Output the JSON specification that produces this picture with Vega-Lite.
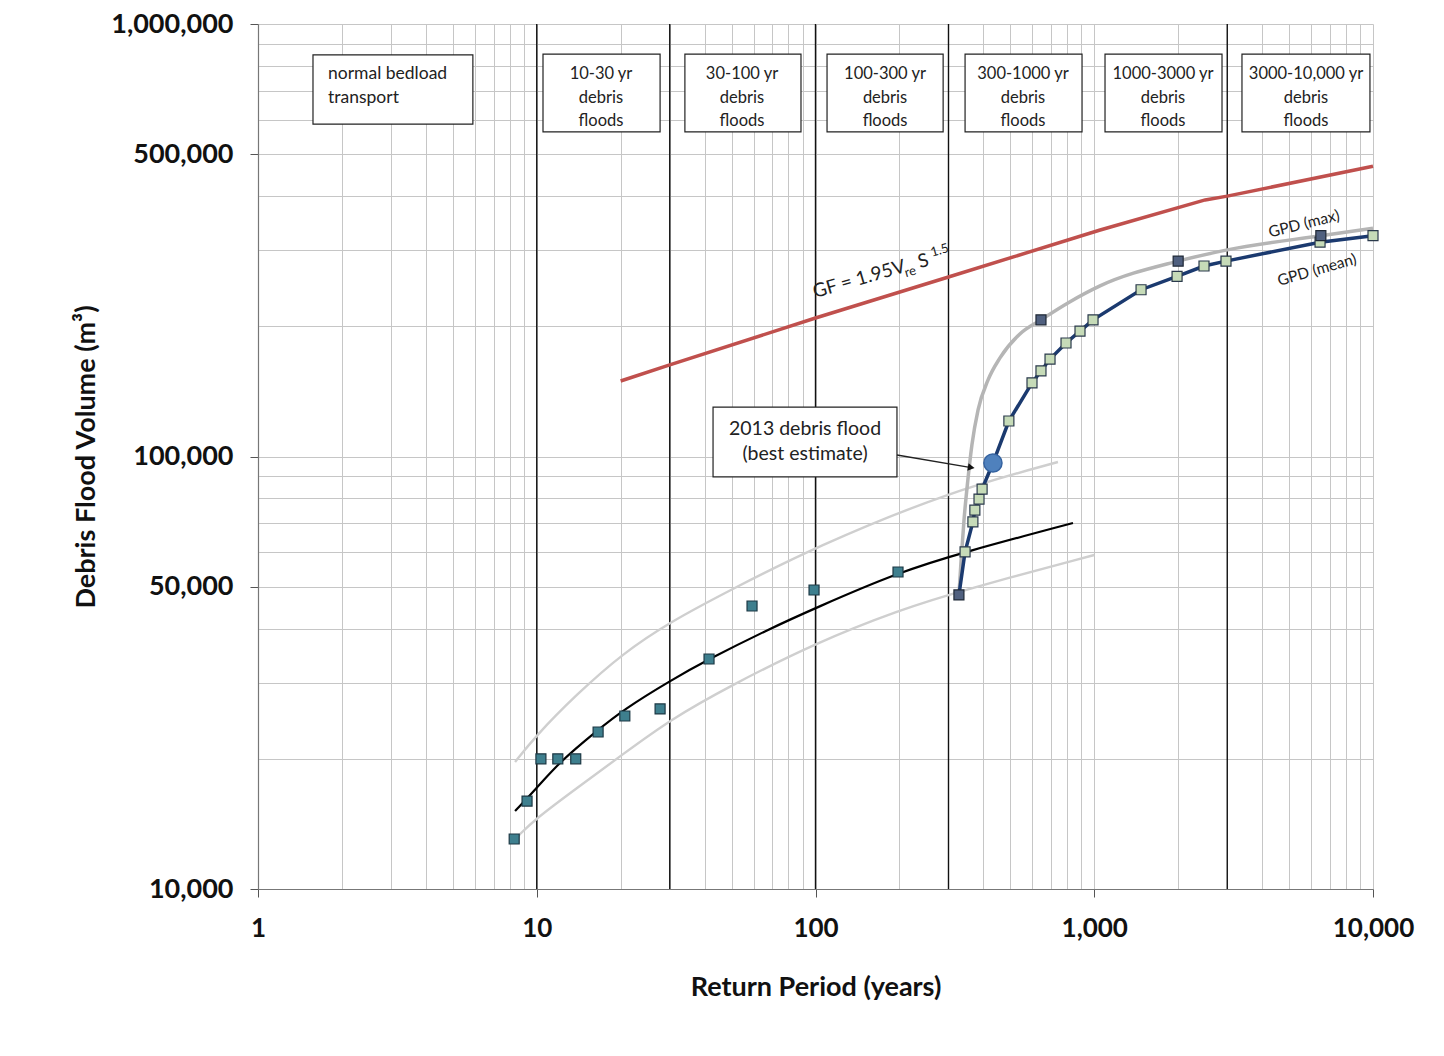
{
  "$schema": "https://vega.github.io/schema/vega-lite/v6.json",
  "autosize": {"type": "none"},
  "width": 1115,
  "height": 865,
  "padding": {"left": 258, "top": 24, "right": 71, "bottom": 167},
  "background": "white",
  "config": {
    "view": {"stroke": null},
    "font": "Lato",
    "axis": {"labelFont": "Lato", "titleFont": "Lato"}
  },
  "datasets": {
    "obs": [
      {"x": 8.3, "y": 13050}, {"x": 9.23, "y": 15970}, {"x": 10.35, "y": 20000},
      {"x": 11.9, "y": 20000}, {"x": 13.8, "y": 20000}, {"x": 16.6, "y": 23070},
      {"x": 20.7, "y": 25120}, {"x": 27.7, "y": 26080}, {"x": 41.5, "y": 34020},
      {"x": 59.2, "y": 45120}, {"x": 98.8, "y": 49130}, {"x": 197.7, "y": 54070}
    ],
    "fit": [
      {"x": 8.36, "y": 15140}, {"x": 9.86, "y": 16940}, {"x": 12.1, "y": 19700},
      {"x": 16.4, "y": 23190}, {"x": 20.4, "y": 25940}, {"x": 30, "y": 30270},
      {"x": 41.5, "y": 34020}, {"x": 67, "y": 39700}, {"x": 100, "y": 44650},
      {"x": 200, "y": 54100}, {"x": 344, "y": 60200}, {"x": 839, "y": 70200}
    ],
    "upper": [
      {"x": 8.36, "y": 19660}, {"x": 9.86, "y": 22500}, {"x": 13.9, "y": 28200},
      {"x": 20.4, "y": 35100}, {"x": 30, "y": 41400}, {"x": 49.4, "y": 49100},
      {"x": 100, "y": 61800}, {"x": 300, "y": 82800}, {"x": 741, "y": 97100}
    ],
    "lower": [
      {"x": 8.5, "y": 13190}, {"x": 9.86, "y": 14500}, {"x": 13.9, "y": 17100},
      {"x": 20.4, "y": 20500}, {"x": 30, "y": 24600}, {"x": 49.4, "y": 29500},
      {"x": 100, "y": 37060}, {"x": 200, "y": 44200}, {"x": 338, "y": 49100},
      {"x": 1000, "y": 59200}
    ],
    "gpdmax": [
      {"x": 327, "y": 47850}, {"x": 333, "y": 57650}, {"x": 341, "y": 71300},
      {"x": 352, "y": 88200}, {"x": 364, "y": 106300}, {"x": 383, "y": 128100},
      {"x": 416, "y": 150300}, {"x": 459, "y": 169000}, {"x": 541, "y": 192000},
      {"x": 644, "y": 207000}, {"x": 819, "y": 228000}, {"x": 1049, "y": 248000},
      {"x": 2000, "y": 283000}, {"x": 2970, "y": 300000}, {"x": 6500, "y": 324000},
      {"x": 10000, "y": 337000}
    ],
    "gpdmaxpts": [
      {"x": 327, "y": 47850}, {"x": 644, "y": 207000}, {"x": 2000, "y": 283000},
      {"x": 6500, "y": 324000}
    ],
    "gpdmean": [
      {"x": 327, "y": 47850}, {"x": 344, "y": 60200}, {"x": 367, "y": 70600},
      {"x": 373, "y": 75200}, {"x": 386, "y": 79700}, {"x": 396, "y": 84100},
      {"x": 433, "y": 96600}, {"x": 494, "y": 120800}, {"x": 598, "y": 148000},
      {"x": 644, "y": 157700}, {"x": 694, "y": 168000}, {"x": 792, "y": 183000},
      {"x": 889, "y": 195000}, {"x": 990, "y": 207000}, {"x": 1472, "y": 243000},
      {"x": 1982, "y": 261000}, {"x": 2476, "y": 275700}, {"x": 2969, "y": 283000},
      {"x": 6457, "y": 313000}, {"x": 10000, "y": 324000}
    ],
    "gpdmeanpts": [
      {"x": 344, "y": 60200}, {"x": 367, "y": 70600},
      {"x": 373, "y": 75200}, {"x": 386, "y": 79700}, {"x": 396, "y": 84100},
      {"x": 494, "y": 120800}, {"x": 598, "y": 148000},
      {"x": 644, "y": 157700}, {"x": 694, "y": 168000}, {"x": 792, "y": 183000},
      {"x": 889, "y": 195000}, {"x": 990, "y": 207000}, {"x": 1472, "y": 243000},
      {"x": 1982, "y": 261000}, {"x": 2476, "y": 275700}, {"x": 2969, "y": 283000},
      {"x": 6457, "y": 313000}, {"x": 10000, "y": 324000}
    ],
    "event2013": [{"x": 433, "y": 96600}],
    "gf": [
      {"x": 20, "y": 149500}, {"x": 30, "y": 162800}, {"x": 100, "y": 209000},
      {"x": 300, "y": 260000}, {"x": 1050, "y": 334000}, {"x": 2500, "y": 392000},
      {"x": 3000, "y": 400000}, {"x": 10000, "y": 469000}
    ],
    "bounds": [{"x": 10}, {"x": 30}, {"x": 100}, {"x": 300}, {"x": 3000}],
    "boxes": [
      {"x": 1.575, "x2": 5.9, "y": 848000, "y2": 587000},
      {"x": 10.53, "x2": 27.7, "y": 852000, "y2": 563000},
      {"x": 34.0, "x2": 88.7, "y": 852000, "y2": 563000},
      {"x": 110, "x2": 287, "y": 852000, "y2": 563000},
      {"x": 344, "x2": 904, "y": 852000, "y2": 563000},
      {"x": 1093, "x2": 2873, "y": 852000, "y2": 563000},
      {"x": 3388, "x2": 9752, "y": 852000, "y2": 563000},
      {"x": 42.9, "x2": 196, "y": 130100, "y2": 89700}
    ],
    "boxtext": [
      {"x": 17.0, "y": 766000, "label": "10-30 yr\ndebris\nfloods"},
      {"x": 54.5, "y": 766000, "label": "30-100  yr\ndebris\nfloods"},
      {"x": 177.6, "y": 766000, "label": "100-300  yr\ndebris\nfloods"},
      {"x": 555, "y": 766000, "label": "300-1000  yr\ndebris\nfloods"},
      {"x": 1765, "y": 766000, "label": "1000-3000  yr\ndebris\nfloods"},
      {"x": 5750, "y": 766000, "label": "3000-10,000  yr\ndebris\nfloods"}
    ],
    "bedload": [{"x": 1.783, "y": 766000, "label": "normal bedload\ntransport"}],
    "anno": [{"x": 91.7, "y": 115800, "label": "2013 debris flood\n(best estimate)"}],
    "arrow": [{"x": 196, "y": 100800}, {"x": 362, "y": 94300}],
    "arrowhead": [{"x": 362, "y": 94300}],
    "gfmain": [{"x": 99.5, "y": 232500, "label": "GF = 1.95V"}],
    "gfsub": [{"x": 211, "y": 259800, "label": "re"}],
    "gfS": [{"x": 237, "y": 272500, "label": "S"}],
    "gfsup": [{"x": 261.8, "y": 289700, "label": "1.5"}],
    "gpdlabmax": [{"x": 5655, "y": 345000, "label": "GPD (max)"}],
    "gpdlabmean": [{"x": 6296, "y": 270000, "label": "GPD (mean)"}]
  },
  "encoding": {
    "x": {
      "field": "x", "type": "quantitative",
      "scale": {"type": "log", "domain": [1, 10000], "nice": false},
      "axis": {
        "title": "Return Period (years)",
        "titleFontSize": 27, "titleFontWeight": "bold", "titleColor": "#111",
        "titlePadding": 33,
        "values": [1,2,3,4,5,6,7,8,9,10,20,30,40,50,60,70,80,90,100,200,300,400,500,600,700,800,900,1000,2000,3000,4000,5000,6000,7000,8000,9000,10000],
        "labelExpr": "indexof([1,10,100,1000,10000], datum.value) >= 0 ? format(datum.value, ',') : ''",
        "labelFontSize": 26, "labelFontWeight": "bold", "labelColor": "#111",
        "labelPadding": 18, "labelFlush": false, "labelOverlap": false,
        "grid": true, "gridColor": "#c6c6c6", "gridWidth": 1,
        "domainColor": "#777", "domainWidth": 1.2,
        "tickColor": "#555",
        "tickSize": {"condition": {"test": "indexof([1,10,100,1000,10000], datum.value) >= 0", "value": 8}, "value": 0}
      }
    },
    "y": {
      "field": "y", "type": "quantitative",
      "scale": {"type": "log", "domain": [10000, 1000000], "nice": false},
      "axis": {
        "title": "Debris Flood Volume (m³)",
        "titleFontSize": 27, "titleFontWeight": "bold", "titleColor": "#111",
        "titlePadding": 10,
        "values": [10000,20000,30000,40000,50000,60000,70000,80000,90000,100000,200000,300000,400000,500000,600000,700000,800000,900000,1000000],
        "labelExpr": "indexof([10000,50000,100000,500000,1000000], datum.value) >= 0 ? format(datum.value, ',') : ''",
        "labelFontSize": 27, "labelFontWeight": "bold", "labelColor": "#111",
        "labelPadding": 17, "labelFlush": false, "labelOverlap": false,
        "grid": true, "gridColor": "#c6c6c6", "gridWidth": 1,
        "domainColor": "#777", "domainWidth": 1.2,
        "tickColor": "#555",
        "tickSize": {"condition": {"test": "indexof([10000,50000,100000,500000,1000000], datum.value) >= 0", "value": 8}, "value": 0}
      }
    }
  },
  "layer": [
    {"data": {"name": "bounds"}, "mark": {"type": "rule", "color": "#111", "strokeWidth": 1.4}, "encoding": {"y": {"value": 0}, "y2": {"value": 865}}},
    {"data": {"name": "upper"}, "mark": {"type": "line", "color": "#cfcfcf", "strokeWidth": 2.4, "interpolate": "basis"}},
    {"data": {"name": "lower"}, "mark": {"type": "line", "color": "#cfcfcf", "strokeWidth": 2.4, "interpolate": "basis"}},
    {"data": {"name": "fit"}, "mark": {"type": "line", "color": "#000000", "strokeWidth": 2.2, "interpolate": "basis"}},
    {"data": {"name": "gf"}, "mark": {"type": "line", "color": "#c0504d", "strokeWidth": 3.5}},
    {"data": {"name": "gpdmax"}, "mark": {"type": "line", "color": "#b5b5b5", "strokeWidth": 3.5, "interpolate": "monotone"}},
    {"data": {"name": "gpdmean"}, "mark": {"type": "line", "color": "#1b3a6f", "strokeWidth": 3.5}},
    {"data": {"name": "obs"}, "mark": {"type": "point", "shape": "square", "filled": true, "size": 100, "color": "#3e7f8e", "stroke": "#1c3844", "strokeWidth": 1.2, "opacity": 1}},
    {"data": {"name": "gpdmeanpts"}, "mark": {"type": "point", "shape": "square", "filled": true, "size": 100, "color": "#c6dbb8", "stroke": "#2b3a4c", "strokeWidth": 1.2, "opacity": 1}},
    {"data": {"name": "gpdmaxpts"}, "mark": {"type": "point", "shape": "square", "filled": true, "size": 100, "color": "#50607f", "stroke": "#1f2836", "strokeWidth": 1.2, "opacity": 1}},
    {"data": {"name": "boxes"}, "mark": {"type": "rect", "fill": "white", "stroke": "#222", "strokeWidth": 1.2}, "encoding": {"x2": {"field": "x2"}, "y2": {"field": "y2"}}},
    {"data": {"name": "boxtext"}, "mark": {"type": "text", "align": "center", "baseline": "middle", "fontSize": 16.5, "lineHeight": 23.5, "lineBreak": "\n", "color": "#222", "font": "Lato"}, "encoding": {"text": {"field": "label"}}},
    {"data": {"name": "bedload"}, "mark": {"type": "text", "align": "left", "baseline": "middle", "fontSize": 17.5, "lineHeight": 24, "lineBreak": "\n", "color": "#222", "font": "Lato"}, "encoding": {"text": {"field": "label"}}},
    {"data": {"name": "anno"}, "mark": {"type": "text", "align": "center", "baseline": "middle", "fontSize": 19.5, "lineHeight": 25, "lineBreak": "\n", "color": "#222", "font": "Lato"}, "encoding": {"text": {"field": "label"}}},
    {"data": {"name": "arrow"}, "mark": {"type": "line", "color": "#222", "strokeWidth": 1.3}},
    {"data": {"name": "arrowhead"}, "mark": {"type": "point", "shape": "triangle-right", "filled": true, "size": 60, "color": "#111", "angle": 9, "opacity": 1}},
    {"data": {"name": "event2013"}, "mark": {"type": "point", "shape": "circle", "filled": true, "size": 330, "color": "#4f81bd", "stroke": "#3563a0", "strokeWidth": 1.5, "opacity": 1}},
    {"data": {"name": "gfmain"}, "mark": {"type": "text", "align": "left", "baseline": "alphabetic", "angle": -16, "fontSize": 19, "color": "#222", "font": "Lato"}, "encoding": {"text": {"field": "label"}}},
    {"data": {"name": "gfsub"}, "mark": {"type": "text", "align": "left", "baseline": "alphabetic", "angle": -16, "fontSize": 13, "color": "#222", "font": "Lato"}, "encoding": {"text": {"field": "label"}}},
    {"data": {"name": "gfS"}, "mark": {"type": "text", "align": "left", "baseline": "alphabetic", "angle": -16, "fontSize": 19, "color": "#222", "font": "Lato"}, "encoding": {"text": {"field": "label"}}},
    {"data": {"name": "gfsup"}, "mark": {"type": "text", "align": "left", "baseline": "alphabetic", "angle": -16, "fontSize": 13, "color": "#222", "font": "Lato"}, "encoding": {"text": {"field": "label"}}},
    {"data": {"name": "gpdlabmax"}, "mark": {"type": "text", "align": "center", "baseline": "middle", "angle": -14, "fontSize": 15.5, "color": "#222", "font": "Lato"}, "encoding": {"text": {"field": "label"}}},
    {"data": {"name": "gpdlabmean"}, "mark": {"type": "text", "align": "center", "baseline": "middle", "angle": -16, "fontSize": 15.5, "color": "#222", "font": "Lato"}, "encoding": {"text": {"field": "label"}}}
  ]
}
